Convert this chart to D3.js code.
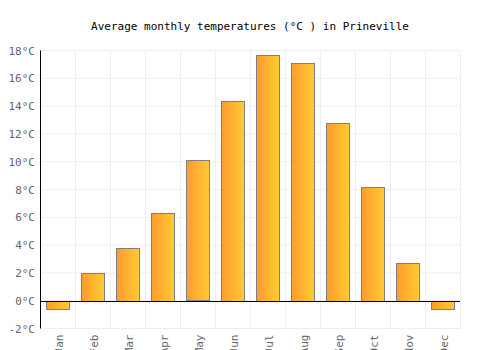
<!DOCTYPE html>
<html><head><meta charset="utf-8">
<script src="https://cdn.jsdelivr.net/npm/d3@7"></script>
<style>body{margin:0;background:#fff}</style>
</head><body><svg id="c" width="500" height="350"></svg>
<script>
const months = ["Jan","Feb","Mar","Apr","May","Jun","Jul","Aug","Sep","Oct","Nov","Dec"];
const temps = [-0.6, 2.0, 3.8, 6.3, 10.1, 14.4, 17.7, 17.1, 12.8, 8.2, 2.7, -0.6];
const yTicks = [-2, 0, 2, 4, 6, 8, 10, 12, 14, 16, 18];
const title = "Average monthly temperatures (°C ) in Prineville";

const svg = d3.select("#c");
const m = {l: 40, r: 40, t: 50, b: 22};
const W = 500, H = 350;
const x = d3.scaleBand().domain(months).range([m.l, W - m.r]).paddingInner(0.34).paddingOuter(0.17);
const xb = d3.scaleBand().domain(months).range([m.l, W - m.r]);
const y = d3.scaleLinear().domain([-2, 18]).range([328.5, 50.5]);

const defs = svg.append("defs");
const g = defs.append("linearGradient").attr("id", "gr").attr("x1", "0%").attr("x2", "100%");
g.append("stop").attr("offset", "0%").attr("stop-color", "#ff9a2e");
g.append("stop").attr("offset", "100%").attr("stop-color", "#ffcc33");

svg.append("text").attr("x", 250).attr("y", 30).attr("text-anchor", "middle")
  .attr("font-family", "DejaVu Sans Mono, monospace").attr("font-size", 11).attr("fill", "#000").text(title);

// grid
svg.append("g").selectAll("line.h").data(yTicks).join("line")
  .attr("x1", m.l).attr("x2", W - m.r).attr("y1", d => y(d)).attr("y2", d => y(d))
  .attr("stroke", "#eeeeee").attr("stroke-width", 1);
const vb = months.map(d => xb(d) + xb.bandwidth()).concat([m.l]);
svg.append("g").selectAll("line.v").data(vb).join("line")
  .attr("x1", d => Math.round(d) + 0.5).attr("x2", d => Math.round(d) + 0.5)
  .attr("y1", y(18)).attr("y2", y(-2)).attr("stroke", "#eeeeee");

// bars
svg.append("g").selectAll("rect").data(temps).join("rect")
  .attr("x", (d, i) => Math.round(x(months[i])) + 0.5)
  .attr("width", Math.round(x.bandwidth()))
  .attr("y", d => Math.round(y(Math.max(0, d))) + 0.5)
  .attr("height", d => Math.round(Math.abs(y(d) - y(0))))
  .attr("fill", "url(#gr)").attr("stroke", "#808080").attr("stroke-width", 1);

// zero line & y axis line
svg.append("line").attr("x1", m.l).attr("x2", W - m.r).attr("y1", Math.round(y(0)) + 0.5).attr("y2", Math.round(y(0)) + 0.5)
  .attr("stroke", "#000");
svg.append("line").attr("x1", m.l + 0.5).attr("x2", m.l + 0.5).attr("y1", y(18)).attr("y2", y(-2))
  .attr("stroke", "#000");

// y labels
svg.append("g").selectAll("text").data(yTicks).join("text")
  .attr("x", m.l - 5).attr("y", d => y(d) + 4).attr("text-anchor", "end")
  .attr("font-family", "DejaVu Sans Mono, monospace").attr("font-size", 11).attr("fill", "#666")
  .text(d => d + "°C");

// x labels
svg.append("g").selectAll("text").data(months).join("text")
  .attr("transform", d => `translate(${xb(d) + xb.bandwidth() / 2 + 5},${y(-2) + 6}) rotate(-90)`)
  .attr("text-anchor", "end")
  .attr("font-family", "DejaVu Sans Mono, monospace").attr("font-size", 11).attr("fill", "#666")
  .text(d => d);
</script></body></html>
